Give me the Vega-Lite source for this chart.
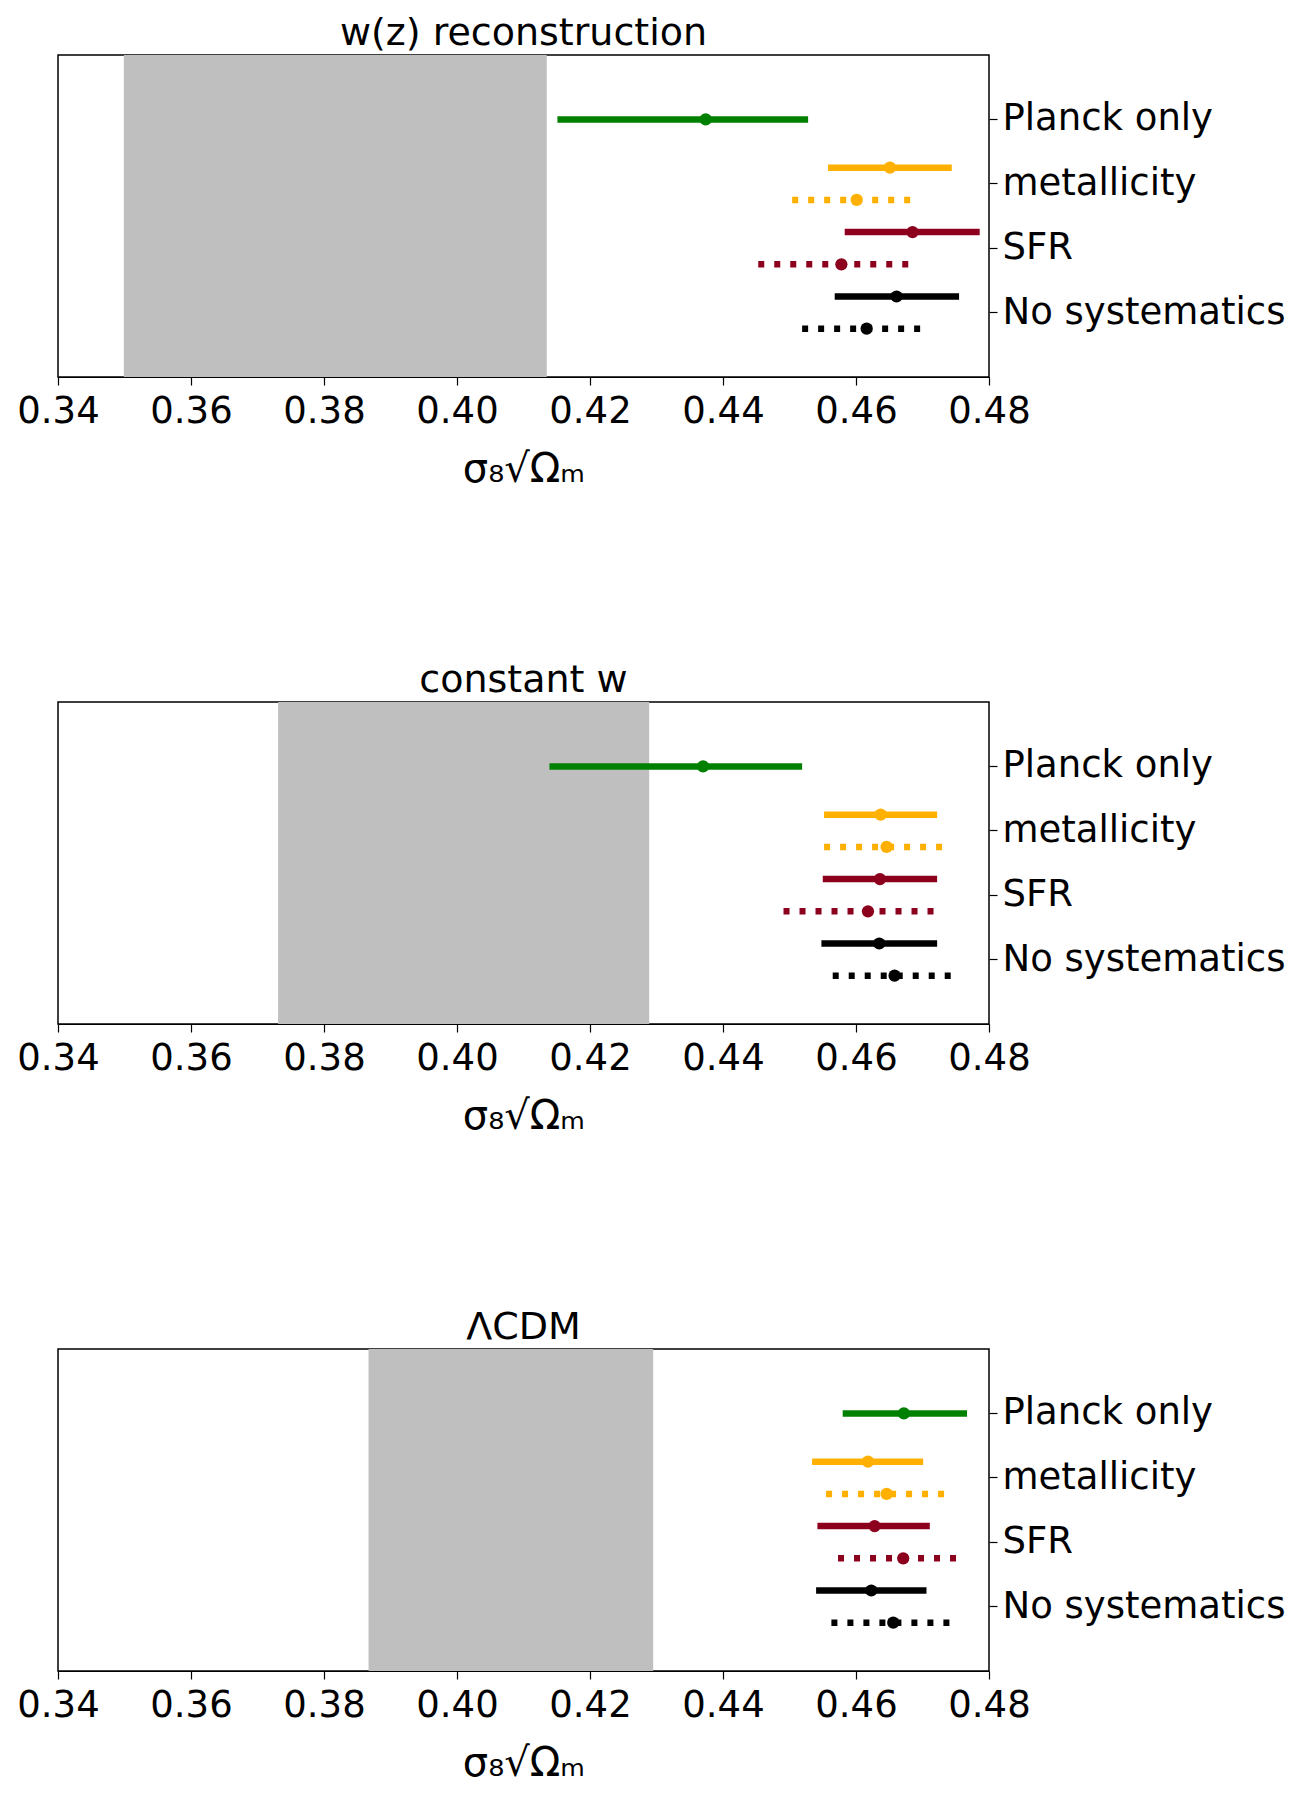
{
  "$schema": "https://vega.github.io/schema/vega-lite/v6.json",
  "padding": {"left": 16, "top": 14, "right": 5, "bottom": 5},
  "background": "white",
  "datasets": {
    "est": [
      {"panel": "wz", "label": "Planck only", "run": "C", "lo": 0.4151, "mid": 0.4374, "hi": 0.4528},
      {"panel": "wz", "label": "metallicity", "run": "A", "lo": 0.4558, "mid": 0.4651, "hi": 0.4744},
      {"panel": "wz", "label": "metallicity", "run": "B", "lo": 0.4504, "mid": 0.4601, "hi": 0.4686},
      {"panel": "wz", "label": "SFR", "run": "A", "lo": 0.4583, "mid": 0.4685, "hi": 0.4786},
      {"panel": "wz", "label": "SFR", "run": "B", "lo": 0.4453, "mid": 0.4578, "hi": 0.4685},
      {"panel": "wz", "label": "No systematics", "run": "A", "lo": 0.4568, "mid": 0.4661, "hi": 0.4755},
      {"panel": "wz", "label": "No systematics", "run": "B", "lo": 0.4519, "mid": 0.4616, "hi": 0.4701},
      {"panel": "cw", "label": "Planck only", "run": "C", "lo": 0.4139, "mid": 0.4370, "hi": 0.4519},
      {"panel": "cw", "label": "metallicity", "run": "A", "lo": 0.4552, "mid": 0.4637, "hi": 0.4722},
      {"panel": "cw", "label": "metallicity", "run": "B", "lo": 0.4552, "mid": 0.4646, "hi": 0.4736},
      {"panel": "cw", "label": "SFR", "run": "A", "lo": 0.4550, "mid": 0.4636, "hi": 0.4722},
      {"panel": "cw", "label": "SFR", "run": "B", "lo": 0.4491, "mid": 0.4618, "hi": 0.4722},
      {"panel": "cw", "label": "No systematics", "run": "A", "lo": 0.4548, "mid": 0.4635, "hi": 0.4722},
      {"panel": "cw", "label": "No systematics", "run": "B", "lo": 0.4565, "mid": 0.4658, "hi": 0.4749},
      {"panel": "lcdm", "label": "Planck only", "run": "C", "lo": 0.4580, "mid": 0.4672, "hi": 0.4767},
      {"panel": "lcdm", "label": "metallicity", "run": "A", "lo": 0.4534, "mid": 0.4618, "hi": 0.4701},
      {"panel": "lcdm", "label": "metallicity", "run": "B", "lo": 0.4555, "mid": 0.4646, "hi": 0.4739},
      {"panel": "lcdm", "label": "SFR", "run": "A", "lo": 0.4542, "mid": 0.4628, "hi": 0.4711},
      {"panel": "lcdm", "label": "SFR", "run": "B", "lo": 0.4573, "mid": 0.4671, "hi": 0.4756},
      {"panel": "lcdm", "label": "No systematics", "run": "A", "lo": 0.4540, "mid": 0.4623, "hi": 0.4706},
      {"panel": "lcdm", "label": "No systematics", "run": "B", "lo": 0.4563, "mid": 0.4656, "hi": 0.4746}
    ],
    "band": [
      {"panel": "wz", "lo": 0.3499, "hi": 0.4135},
      {"panel": "cw", "lo": 0.3731, "hi": 0.4289},
      {"panel": "lcdm", "lo": 0.3867, "hi": 0.4295}
    ]
  },
  "config": {
    "font": "DejaVu Sans",
    "view": {"stroke": "black", "strokeWidth": 1.5},
    "axis": {
      "grid": false,
      "labelFont": "DejaVu Sans",
      "labelFontSize": 37,
      "labelColor": "black",
      "labelLimit": 0,
      "labelFlush": false,
      "labelOverlap": false,
      "titleFont": "DejaVu Sans",
      "titleFontSize": 40,
      "titleFontWeight": "normal",
      "titleColor": "black",
      "domainColor": "black",
      "tickColor": "black",
      "tickSize": 8,
      "tickWidth": 1.2,
      "labelPadding": 8
    },
    "title": {"font": "DejaVu Sans", "fontSize": 38, "fontWeight": "normal", "color": "black", "offset": 2}
  },
  "spacing": 171,
  "vconcat": [
    {
      "title": "w(z) reconstruction",
      "width": 931, "height": 322,
      "layer": [
        {
          "data": {"name": "band"},
          "transform": [{"filter": "datum.panel == 'wz'"}],
          "mark": {"type": "rect", "color": "#bfbfbf"},
          "encoding": {
            "x": {"field": "lo", "type": "quantitative", "scale": {"domain": [0.34, 0.48], "nice": false, "zero": false},
                  "axis": {"values": [0.34, 0.36, 0.38, 0.40, 0.42, 0.44, 0.46, 0.48], "format": ".2f", "title": "σ₈√Ωₘ", "titlePadding": 20}},
            "x2": {"field": "hi"}
          }
        },
        {
          "data": {"name": "est"},
          "transform": [{"filter": "datum.panel == 'wz'"}],
          "layer": [
            {"mark": {"type": "rule", "strokeWidth": 6.5, "strokeCap": "butt"},
             "encoding": {
               "x": {"field": "lo", "type": "quantitative"},
               "x2": {"field": "hi"},
               "strokeDash": {"field": "run", "type": "nominal", "scale": {"domain": ["A", "B", "C"], "range": [[1, 0], [6, 10], [1, 0]]}, "legend": null}
             }},
            {"mark": {"type": "point", "filled": true, "opacity": 1, "size": 150, "shape": "circle"},
             "encoding": {"x": {"field": "mid", "type": "quantitative"}}}
          ],
          "encoding": {
            "y": {"field": "label", "type": "nominal", "sort": null,
                  "scale": {"type": "band", "domain": ["Planck only", "metallicity", "SFR", "No systematics"], "paddingInner": 0, "paddingOuter": 0.5},
                  "axis": {"orient": "right", "title": null, "domain": false, "labelPadding": 5}},
            "yOffset": {"field": "run", "type": "nominal", "scale": {"type": "point", "domain": ["A", "C", "B"], "padding": 1.5}},
            "color": {"field": "label", "type": "nominal", "legend": null,
                      "scale": {"domain": ["Planck only", "metallicity", "SFR", "No systematics"], "range": ["#008000", "#ffb000", "#8c001e", "#000000"]}}
          }
        }
      ]
    },
    {
      "title": "constant w",
      "width": 931, "height": 322,
      "layer": [
        {
          "data": {"name": "band"},
          "transform": [{"filter": "datum.panel == 'cw'"}],
          "mark": {"type": "rect", "color": "#bfbfbf"},
          "encoding": {
            "x": {"field": "lo", "type": "quantitative", "scale": {"domain": [0.34, 0.48], "nice": false, "zero": false},
                  "axis": {"values": [0.34, 0.36, 0.38, 0.40, 0.42, 0.44, 0.46, 0.48], "format": ".2f", "title": "σ₈√Ωₘ", "titlePadding": 20}},
            "x2": {"field": "hi"}
          }
        },
        {
          "data": {"name": "est"},
          "transform": [{"filter": "datum.panel == 'cw'"}],
          "layer": [
            {"mark": {"type": "rule", "strokeWidth": 6.5, "strokeCap": "butt"},
             "encoding": {
               "x": {"field": "lo", "type": "quantitative"},
               "x2": {"field": "hi"},
               "strokeDash": {"field": "run", "type": "nominal", "scale": {"domain": ["A", "B", "C"], "range": [[1, 0], [6, 10], [1, 0]]}, "legend": null}
             }},
            {"mark": {"type": "point", "filled": true, "opacity": 1, "size": 150, "shape": "circle"},
             "encoding": {"x": {"field": "mid", "type": "quantitative"}}}
          ],
          "encoding": {
            "y": {"field": "label", "type": "nominal", "sort": null,
                  "scale": {"type": "band", "domain": ["Planck only", "metallicity", "SFR", "No systematics"], "paddingInner": 0, "paddingOuter": 0.5},
                  "axis": {"orient": "right", "title": null, "domain": false, "labelPadding": 5}},
            "yOffset": {"field": "run", "type": "nominal", "scale": {"type": "point", "domain": ["A", "C", "B"], "padding": 1.5}},
            "color": {"field": "label", "type": "nominal", "legend": null,
                      "scale": {"domain": ["Planck only", "metallicity", "SFR", "No systematics"], "range": ["#008000", "#ffb000", "#8c001e", "#000000"]}}
          }
        }
      ]
    },
    {
      "title": "ΛCDM",
      "width": 931, "height": 322,
      "layer": [
        {
          "data": {"name": "band"},
          "transform": [{"filter": "datum.panel == 'lcdm'"}],
          "mark": {"type": "rect", "color": "#bfbfbf"},
          "encoding": {
            "x": {"field": "lo", "type": "quantitative", "scale": {"domain": [0.34, 0.48], "nice": false, "zero": false},
                  "axis": {"values": [0.34, 0.36, 0.38, 0.40, 0.42, 0.44, 0.46, 0.48], "format": ".2f", "title": "σ₈√Ωₘ", "titlePadding": 20}},
            "x2": {"field": "hi"}
          }
        },
        {
          "data": {"name": "est"},
          "transform": [{"filter": "datum.panel == 'lcdm'"}],
          "layer": [
            {"mark": {"type": "rule", "strokeWidth": 6.5, "strokeCap": "butt"},
             "encoding": {
               "x": {"field": "lo", "type": "quantitative"},
               "x2": {"field": "hi"},
               "strokeDash": {"field": "run", "type": "nominal", "scale": {"domain": ["A", "B", "C"], "range": [[1, 0], [6, 10], [1, 0]]}, "legend": null}
             }},
            {"mark": {"type": "point", "filled": true, "opacity": 1, "size": 150, "shape": "circle"},
             "encoding": {"x": {"field": "mid", "type": "quantitative"}}}
          ],
          "encoding": {
            "y": {"field": "label", "type": "nominal", "sort": null,
                  "scale": {"type": "band", "domain": ["Planck only", "metallicity", "SFR", "No systematics"], "paddingInner": 0, "paddingOuter": 0.5},
                  "axis": {"orient": "right", "title": null, "domain": false, "labelPadding": 5}},
            "yOffset": {"field": "run", "type": "nominal", "scale": {"type": "point", "domain": ["A", "C", "B"], "padding": 1.5}},
            "color": {"field": "label", "type": "nominal", "legend": null,
                      "scale": {"domain": ["Planck only", "metallicity", "SFR", "No systematics"], "range": ["#008000", "#ffb000", "#8c001e", "#000000"]}}
          }
        }
      ]
    }
  ]
}
